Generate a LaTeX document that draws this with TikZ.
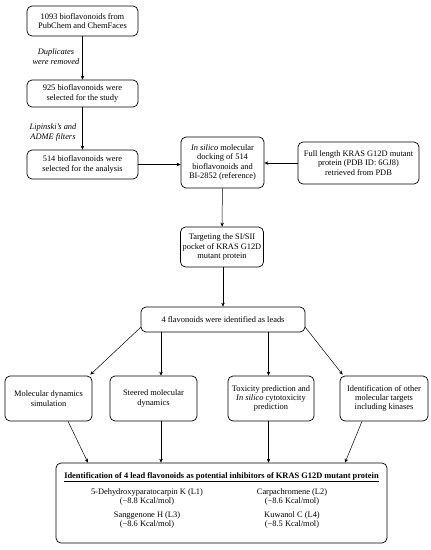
\documentclass[tikz,border=0pt]{standalone}
\usepackage{fontspec}
\setmainfont{Liberation Serif}
\usetikzlibrary{arrows.meta,calc}
\begin{document}
\begin{tikzpicture}[x=1pt,y=-1pt,
  box/.style={draw, line width=0.7pt, rounded corners=5pt, align=center, inner sep=1pt, font=\fontsize{8.4}{9.3}\selectfont},
  lbl/.style={align=center, inner sep=0pt, font=\fontsize{8.4}{9.8}\selectfont\itshape},
  txt/.style={align=center, inner sep=0pt, font=\fontsize{8.4}{9}\selectfont},
  arr/.style={-{Stealth[length=4pt,width=3.5pt]}, line width=0.5pt}]
\useasboundingbox (0,0) rectangle (431,550);
\fill[white] (0,0) rectangle (431,550);
\node[box, minimum width=111pt, minimum height=30pt] (b1) at (82.5,21) {1093 bioflavonoids from\\PubChem and ChemFaces};
\node[box, minimum width=111pt, minimum height=27pt] (b2) at (82.5,93.5) {925 bioflavonoids were\\selected for the study};
\node[box, minimum width=111pt, minimum height=29pt] (b3) at (82.5,164.5) {514 bioflavonoids were\\selected for the analysis};
\node[lbl] (l1) at (56,57) {Duplicates\\were removed};
\node[lbl] (l2) at (53,132.5) {Lipinski's and\\ADME filters};
\node[box, minimum width=83pt, minimum height=51pt] (dock) at (222.5,162.5) {\textit{In silico} molecular\\docking of 514\\bioflavonoids and\\BI-2852 (reference)};
\node[box, minimum width=121pt, minimum height=42pt] (full) at (358.5,163) {Full length KRAS G12D mutant\\protein (PDB ID: 6GJ8)\\retrieved from PDB};
\node[box, minimum width=83pt, minimum height=40pt] (tgt) at (222,247) {Targeting the SI/SII\\pocket of KRAS G12D\\mutant protein};
\node[box, minimum width=164pt, minimum height=25pt] (flav) at (223,319.5) {4 flavonoids were identified as leads};
\node[box, minimum width=87pt, minimum height=45pt] (md) at (48.5,398.5) {Molecular dynamics\\simulation};
\node[box, minimum width=87pt, minimum height=45pt] (smd) at (153.5,398.5) {Steered molecular\\dynamics};
\node[box, minimum width=86pt, minimum height=45pt] (tox) at (271,398.5) {Toxicity prediction and\\\textit{In silico} cytotoxicity\\prediction};
\node[box, minimum width=88pt, minimum height=45pt] (idt) at (384,398.5) {Identification of other\\molecular targets\\including kinases};
\node[box, minimum width=331pt, minimum height=80pt] (fin) at (221.5,503) {};
\node[txt, font=\fontsize{8.4}{9}\selectfont\bfseries] (ttl) at (221.5,477) {\underline{Identification of 4 lead flavonoids as potential inhibitors of KRAS G12D mutant protein}};
\node[txt] (c1) at (147,496.5) {5-Dehydroxyparatocarpin K (L1)\\(−8.8 Kcal/mol)};
\node[txt] (c2) at (292,496.5) {Carpachromene (L2)\\(−8.6 Kcal/mol)};
\node[txt] (c3) at (147,519.5) {Sanggenone H (L3)\\(−8.6 Kcal/mol)};
\node[txt] (c4) at (292,519.5) {Kuwanol C (L4)\\(−8.5 Kcal/mol)};
\draw[arr] (b1) -- (b2);
\draw[arr] (b2) -- (b3);
\draw[arr] (b3.east) -- (b3.east -| dock.west);
\draw[arr] (full.west) -- (full.west -| dock.east);
\draw[arr] (dock) -- (tgt);
\draw[arr] (tgt.south -| flav.north) -- (flav.north);
\draw[arr] ($(flav.south west)+(0,-5)$) -- ($(md.north east)+(-2,-1)$);
\draw[arr] (flav.south -| 161,0) -- (smd.north -| 161,0);
\draw[arr] (flav.south -| 268.5,0) -- (tox.north -| 268.5,0);
\draw[arr] ($(flav.south east)+(0,-5)$) -- ($(idt.north west)+(3,-1)$);
\draw[arr] (md.south -| 68,0) -- (fin.north -| 88,0);
\draw[arr] (smd.south -| 161,0) -- (fin.north -| 161,0);
\draw[arr] (tox.south -| 268.5,0) -- (fin.north -| 268.5,0);
\draw[arr] (idt.south -| 362,0) -- (fin.north -| 345,0);
\end{tikzpicture}
\end{document}
